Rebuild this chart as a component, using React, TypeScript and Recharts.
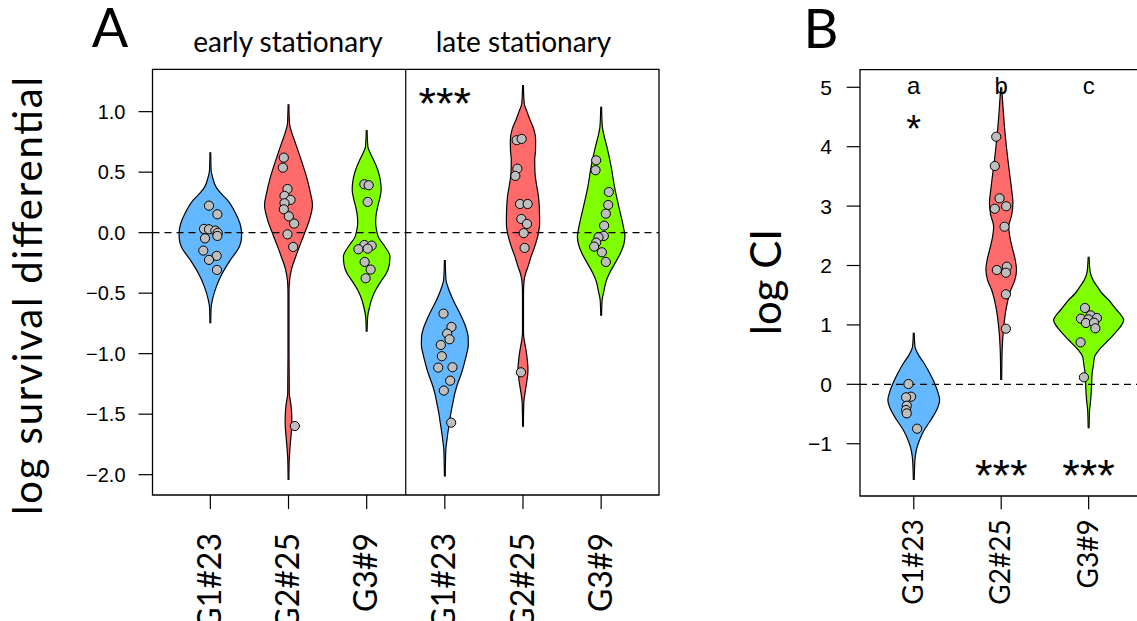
import React from 'react';
import { ComposedChart, Area, Scatter, XAxis, YAxis, ReferenceLine, ReferenceArea } from 'recharts';

// ---------- categories, ticks, titles ----------
const panelAPositions = [1, 2, 3, 4, 5, 6];
const panelALabels = ['G1#23', 'G2#25', 'G3#9', 'G1#23', 'G2#25', 'G3#9'];
const panelBPositions = [1, 2, 3];
const panelBLabels = ['G1#23', 'G2#25', 'G3#9'];
const panelATicks = [-2, -1.5, -1, -0.5, 0, 0.5, 1];
const panelBTicks = [-1, 0, 1, 2, 3, 4, 5];
const panelADomainX = [0.26, 6.74];
const panelADomainY = [-2.168, 1.35];
const panelBDomainX = [0.385, 3.615];
const panelBDomainY = [-1.88, 5.296];
const phaseTitles = ['early stationary', 'late stationary'];
const panelTitles = ['A', 'B'];
const axisTitles = ['log survival differential', 'log CI'];
const strainColors = ['#63B8FF', '#FF6A6A', '#7FFF00'];

// ---------- panel A violins (levels and half widths, axis units) ----------
const earlyG1Level = [0.664, 0.518, 0.45, 0.38, 0.33, 0.27, 0.16, 0.08, 0.0, -0.06, -0.116, -0.226, -0.336, -0.446, -0.556, -0.62, -0.749];
const earlyG1Width = [0.005, 0.010, 0.032, 0.070, 0.128, 0.217, 0.323, 0.377, 0.400, 0.396, 0.371, 0.256, 0.153, 0.077, 0.026, 0.010, 0.005];

const earlyG2Level = [1.061, 0.904, 0.82, 0.739, 0.601, 0.463, 0.326, 0.23, 0.105, -0.027, -0.165, -0.303, -0.40, -0.50, -1.0, -1.327, -1.40, -1.465, -1.57, -1.68, -1.78, -1.878, -2.044];
const earlyG2Width = [0.005, 0.0128, 0.045, 0.089, 0.162, 0.230, 0.281, 0.307, 0.268, 0.192, 0.111, 0.038, 0.0128, 0.0064, 0.0064, 0.010, 0.026, 0.038, 0.043, 0.032, 0.019, 0.009, 0.005];

const earlyG3Level = [0.849, 0.711, 0.65, 0.601, 0.52, 0.463, 0.39, 0.353, 0.28, 0.215, 0.13, 0.077, 0.0, -0.033, -0.10, -0.198, -0.27, -0.336, -0.40, -0.474, -0.55, -0.611, -0.694, -0.818];
const earlyG3Width = [0.005, 0.0153, 0.051, 0.089, 0.141, 0.166, 0.183, 0.185, 0.166, 0.141, 0.118, 0.115, 0.134, 0.147, 0.217, 0.298, 0.288, 0.252, 0.185, 0.115, 0.064, 0.038, 0.0128, 0.005];

const lateG1Level = [-0.226, -0.391, -0.47, -0.556, -0.694, -0.78, -0.859, -0.93, -0.997, -1.08, -1.162, -1.245, -1.327, -1.41, -1.492, -1.575, -1.658, -1.72, -1.795, -2.016];
const lateG1Width = [0.005, 0.0153, 0.051, 0.106, 0.213, 0.268, 0.298, 0.300, 0.281, 0.249, 0.213, 0.166, 0.128, 0.102, 0.077, 0.058, 0.038, 0.026, 0.0128, 0.005];

const lateG2Level = [1.221, 1.07, 1.0, 0.933, 0.85, 0.768, 0.68, 0.601, 0.50, 0.409, 0.30, 0.216, 0.078, -0.02, -0.115, -0.20, -0.281, -0.34, -0.404, -0.5, -0.831, -0.9, -0.969, -1.05, -1.134, -1.22, -1.30, -1.41, -1.603];
const lateG2Width = [0.005, 0.0153, 0.051, 0.089, 0.141, 0.162, 0.160, 0.150, 0.153, 0.170, 0.198, 0.208, 0.213, 0.192, 0.150, 0.102, 0.064, 0.032, 0.0128, 0.0064, 0.0064, 0.019, 0.038, 0.055, 0.064, 0.051, 0.032, 0.010, 0.005];

const lateG3Level = [1.041, 0.876, 0.80, 0.711, 0.546, 0.381, 0.215, 0.05, -0.033, -0.10, -0.17, -0.25, -0.336, -0.40, -0.474, -0.556, -0.686];
const lateG3Width = [0.005, 0.0153, 0.038, 0.073, 0.128, 0.170, 0.226, 0.284, 0.304, 0.288, 0.247, 0.179, 0.106, 0.064, 0.038, 0.0128, 0.005];

// ---------- panel B violins ----------
const ciG1Level = [0.869, 0.633, 0.5, 0.354, 0.2, 0.072, -0.1, -0.264, -0.43, -0.601, -0.77, -0.938, -1.08, -1.218, -1.4, -1.611];
const ciG1Width = [0.005, 0.014, 0.052, 0.118, 0.178, 0.221, 0.269, 0.296, 0.263, 0.195, 0.120, 0.066, 0.034, 0.017, 0.009, 0.005];

const ciG2Level = [5.0, 4.618, 4.226, 3.776, 3.327, 3.047, 2.85, 2.653, 2.5, 2.3, 2.1, 1.924, 1.75, 1.588, 1.306, 0.97, 0.577, 0.3, 0.072];
const ciG2Width = [0.005, 0.023, 0.044, 0.077, 0.115, 0.134, 0.120, 0.086, 0.097, 0.126, 0.160, 0.175, 0.155, 0.109, 0.061, 0.029, 0.011, 0.007, 0.005];

const ciG3Level = [2.148, 1.896, 1.75, 1.643, 1.52, 1.419, 1.251, 1.15, 1.082, 1.0, 0.914, 0.8, 0.69, 0.58, 0.465, 0.3, 0.185, 0.0, -0.152, -0.3, -0.433, -0.741];
const ciG3Width = [0.005, 0.017, 0.052, 0.100, 0.160, 0.229, 0.321, 0.378, 0.401, 0.378, 0.332, 0.263, 0.191, 0.120, 0.069, 0.052, 0.040, 0.034, 0.029, 0.021, 0.011, 0.005];

// ---------- observations (values and horizontal jitter) ----------
const earlyG1Values = [0.223, 0.152, 0.031, 0.028, 0.017, -0.002, -0.027, -0.047, -0.148, -0.192, -0.225, -0.308];
const earlyG1Jitter = [-0.017, 0.09, -0.081, -0.017, 0.064, 0.094, 0.09, -0.068, -0.09, 0.081, -0.017, 0.085];
const earlyG2Values = [0.62, 0.537, 0.361, 0.304, 0.271, 0.243, 0.193, 0.135, 0.075, -0.014, -0.118, -1.598];
const earlyG2Jitter = [-0.06, -0.072, -0.013, -0.051, 0.026, -0.051, -0.06, 0.004, 0.072, -0.013, 0.06, 0.081];
const earlyG3Values = [0.4, 0.392, 0.254, -0.102, -0.107, -0.137, -0.132, -0.242, -0.305, -0.377];
const earlyG3Jitter = [-0.03, 0.026, 0.013, -0.03, 0.064, -0.106, 0.013, -0.026, 0.051, -0.013];
const lateG1Values = [-0.669, -0.779, -0.834, -0.881, -0.928, -1.021, -1.115, -1.112, -1.223, -1.305, -1.57];
const lateG1Jitter = [-0.017, 0.085, 0.03, 0.06, -0.051, -0.038, -0.085, 0.098, 0.068, -0.013, 0.081];
const lateG2Values = [0.764, 0.775, 0.529, 0.469, 0.237, 0.237, 0.113, 0.072, -0.004, -0.126, -1.154];
const lateG2Jitter = [-0.081, -0.017, -0.072, -0.098, -0.038, 0.06, -0.021, 0.051, 0.009, 0.021, -0.026];
const lateG3Values = [0.598, 0.516, 0.336, 0.229, 0.157, 0.058, -0.027, -0.038, -0.082, -0.115, -0.162, -0.242];
const lateG3Jitter = [-0.064, -0.072, 0.098, 0.09, 0.06, 0.038, 0.034, -0.034, -0.064, -0.09, 0.009, 0.06];

const ciG1Values = [0.005, -0.208, -0.219, -0.36, -0.433, -0.489, -0.747];
const ciG1Jitter = [-0.061, -0.031, -0.088, -0.08, -0.088, -0.08, 0.038];
const ciG2Values = [4.168, 3.675, 3.131, 2.956, 2.997, 2.653, 1.924, 1.98, 1.879, 1.515, 0.936];
const ciG2Jitter = [-0.057, -0.073, -0.019, -0.073, 0.057, 0.038, -0.05, 0.065, 0.054, 0.054, 0.054];
const ciG3Values = [1.285, 1.105, 1.161, 1.094, 1.116, 1.032, 1.038, 0.943, 0.707, 0.118];
const ciG3Jitter = [-0.042, -0.088, 0.023, -0.003, 0.095, -0.031, 0.061, 0.077, -0.092, -0.054];

// ---------- annotations ----------
const panelAMarkX = [4];
const panelAMarkY = [1.152];
const panelAMarkText = ['***'];
const panelBMarkX = [1, 2, 3, 1, 2, 3];
const panelBMarkY = [5, 5, 5, 4.44, -1.36, -1.36];
const panelBMarkText = ['a', 'b', 'c', '*', '***', '***'];

// ---------- builders ----------
const toViolin = (center: number, levels: number[], widths: number[]) =>
  levels.map((y, i) => ({ y, span: [center - widths[i], center + widths[i]] }));
const toPoints = (center: number, values: number[], jitter: number[]) =>
  values.map((y, i) => ({ x: center + jitter[i], y }));
const toMarks = (xs: number[], ys: number[], texts: string[]) =>
  xs.map((x, i) => ({ x, y: ys[i], text: texts[i] }));

const panelAViolins = [
  { data: toViolin(panelAPositions[0], earlyG1Level, earlyG1Width), color: strainColors[0] },
  { data: toViolin(panelAPositions[1], earlyG2Level, earlyG2Width), color: strainColors[1] },
  { data: toViolin(panelAPositions[2], earlyG3Level, earlyG3Width), color: strainColors[2] },
  { data: toViolin(panelAPositions[3], lateG1Level, lateG1Width), color: strainColors[0] },
  { data: toViolin(panelAPositions[4], lateG2Level, lateG2Width), color: strainColors[1] },
  { data: toViolin(panelAPositions[5], lateG3Level, lateG3Width), color: strainColors[2] },
];
const panelAPoints = [
  toPoints(panelAPositions[0], earlyG1Values, earlyG1Jitter),
  toPoints(panelAPositions[1], earlyG2Values, earlyG2Jitter),
  toPoints(panelAPositions[2], earlyG3Values, earlyG3Jitter),
  toPoints(panelAPositions[3], lateG1Values, lateG1Jitter),
  toPoints(panelAPositions[4], lateG2Values, lateG2Jitter),
  toPoints(panelAPositions[5], lateG3Values, lateG3Jitter),
].flat();
const panelBViolins = [
  { data: toViolin(panelBPositions[0], ciG1Level, ciG1Width), color: strainColors[0] },
  { data: toViolin(panelBPositions[1], ciG2Level, ciG2Width), color: strainColors[1] },
  { data: toViolin(panelBPositions[2], ciG3Level, ciG3Width), color: strainColors[2] },
];
const panelBPoints = [
  toPoints(panelBPositions[0], ciG1Values, ciG1Jitter),
  toPoints(panelBPositions[1], ciG2Values, ciG2Jitter),
  toPoints(panelBPositions[2], ciG3Values, ciG3Jitter),
].flat();
const panelAMarks = toMarks(panelAMarkX, panelAMarkY, panelAMarkText);
const panelBMarks = toMarks(panelBMarkX, panelBMarkY, panelBMarkText);

// ---------- styling helpers ----------
const SANS = '"Liberation Sans", Arial, sans-serif';
const CMSS = 'Lato, "Open Sans", sans-serif';
const minus = (v: number, digits: number) => v.toFixed(digits).replace('-', '\u2212');

const makeRotTick = (labels: string[], fontSize: number) => (props: any) => {
  const { x, y, payload } = props;
  const label = labels[Math.round(payload.value) - 1] ?? '';
  return (
    <text x={x} y={y} transform={`rotate(-90 ${x} ${y})`} textAnchor="end" dy="0.33em"
      fontFamily={CMSS} fontSize={fontSize} fill="#000">{label}</text>
  );
};

const Dot = (p: any) => (
  <circle cx={p.cx} cy={p.cy} r={4.6} fill="#BEBEBE" stroke="#000" strokeWidth={1} />
);

const Mark = (p: any) => {
  const t = p.payload?.text ?? '';
  const isStar = t.indexOf('*') >= 0;
  const size = t === '*' ? 38 : isStar ? 45 : 24;
  return (
    <text x={p.cx} y={p.cy} textAnchor="middle" dy={isStar ? '0.575em' : '0.26em'}
      fontFamily={SANS} fontSize={size} fill="#000">{t}</text>
  );
};

const RotTickA = makeRotTick(panelALabels, 32);
const RotTickB = makeRotTick(panelBLabels, 28);

export default function App() {
  return (
    <div style={{ position: 'fixed', left: 0, top: 0, width: 1137, height: 621, overflow: 'hidden', background: '#fff' }}>
      {/* Panel A */}
      <div style={{ position: 'absolute', left: 0, top: 0 }}>
        <ComposedChart width={680} height={621} layout="vertical"
          margin={{ top: 69.3, right: 21, bottom: 0, left: 52.5 }}>
          <XAxis type="number" dataKey="x" domain={panelADomainX} allowDataOverflow ticks={panelAPositions}
            axisLine={false} tickLine={{ stroke: '#000', strokeWidth: 1.2 }} tickSize={14} tickMargin={24}
            height={126} tick={RotTickA} interval={0} />
          <YAxis type="number" dataKey="y" domain={panelADomainY} allowDataOverflow ticks={panelATicks}
            reversed axisLine={false} tickLine={{ stroke: '#000', strokeWidth: 1.2 }} tickSize={14} tickMargin={13}
            width={100} interval={0}
            tick={{ fontFamily: SANS, fontSize: 20, fill: '#000' }}
            tickFormatter={(v: number) => minus(v, 1)} />
          {panelAViolins.map((v, i) => (
            <Area key={`va${i}`} data={v.data} dataKey="span" type="monotone" fill={v.color} fillOpacity={1}
              stroke="#000" strokeWidth={1.2} isAnimationActive={false} dot={false} activeDot={false} />
          ))}
          <ReferenceLine y={0} stroke="#000" strokeWidth={1.2} strokeDasharray="7 5" />
          <ReferenceLine x={3.5} stroke="#000" strokeWidth={1.2} />
          <ReferenceArea x1={panelADomainX[0]} x2={panelADomainX[1]} y1={panelADomainY[0]} y2={panelADomainY[1]}
            fill="none" fillOpacity={0} stroke="#000" strokeWidth={1.3} ifOverflow="visible" />
          <Scatter data={panelAPoints} shape={Dot} isAnimationActive={false} />
          <Scatter data={panelAMarks} shape={Mark} isAnimationActive={false} />
        </ComposedChart>
      </div>

      {/* Panel B */}
      <div style={{ position: 'absolute', left: 700, top: 0 }}>
        <ComposedChart width={460} height={621} layout="vertical"
          margin={{ top: 69.7, right: 17.6, bottom: 0, left: 60 }}>
          <XAxis type="number" dataKey="x" domain={panelBDomainX} allowDataOverflow ticks={panelBPositions}
            axisLine={false} tickLine={{ stroke: '#000', strokeWidth: 1.2 }} tickSize={13.3} tickMargin={10}
            height={125} tick={RotTickB} interval={0} />
          <YAxis type="number" dataKey="y" domain={panelBDomainY} allowDataOverflow ticks={panelBTicks}
            reversed axisLine={false} tickLine={{ stroke: '#000', strokeWidth: 1.2 }} tickSize={13.3} tickMargin={14.7}
            width={100} interval={0}
            tick={{ fontFamily: SANS, fontSize: 21, fill: '#000' }}
            tickFormatter={(v: number) => minus(v, 0)} />
          {panelBViolins.map((v, i) => (
            <Area key={`vb${i}`} data={v.data} dataKey="span" type="monotone" fill={v.color} fillOpacity={1}
              stroke="#000" strokeWidth={1.2} isAnimationActive={false} dot={false} activeDot={false} />
          ))}
          <ReferenceLine y={0} stroke="#000" strokeWidth={1.2} strokeDasharray="7 5" />
          <ReferenceArea x1={panelBDomainX[0]} x2={panelBDomainX[1]} y1={panelBDomainY[0]} y2={panelBDomainY[1]}
            fill="none" fillOpacity={0} stroke="#000" strokeWidth={1.3} ifOverflow="visible" />
          <Scatter data={panelBPoints} shape={Dot} isAnimationActive={false} />
          <Scatter data={panelBMarks} shape={Mark} isAnimationActive={false} />
        </ComposedChart>
      </div>

      {/* Titles */}
      <svg width={1137} height={621} style={{ position: 'absolute', left: 0, top: 0, pointerEvents: 'none' }}>
        <text x={110} y={47} textAnchor="middle" fontFamily={CMSS} fontSize={54} fill="#000">{panelTitles[0]}</text>
        <text x={821} y={48} textAnchor="middle" fontFamily={CMSS} fontSize={54} fill="#000">{panelTitles[1]}</text>
        <text x={288} y={52} textAnchor="middle" fontFamily={CMSS} fontSize={28} fill="#000">{phaseTitles[0]}</text>
        <text x={523.5} y={52} textAnchor="middle" fontFamily={CMSS} fontSize={28} fill="#000">{phaseTitles[1]}</text>
        <text x={42} y={296} transform="rotate(-90 42 296)" textAnchor="middle" fontFamily={CMSS} fontSize={40}
          textLength={438} lengthAdjust="spacing" fill="#000">{axisTitles[0]}</text>
        <text x={781} y={282} transform="rotate(-90 781 282)" textAnchor="middle" fontFamily={CMSS} fontSize={42}
          fill="#000">{axisTitles[1]}</text>
      </svg>
    </div>
  );
}
